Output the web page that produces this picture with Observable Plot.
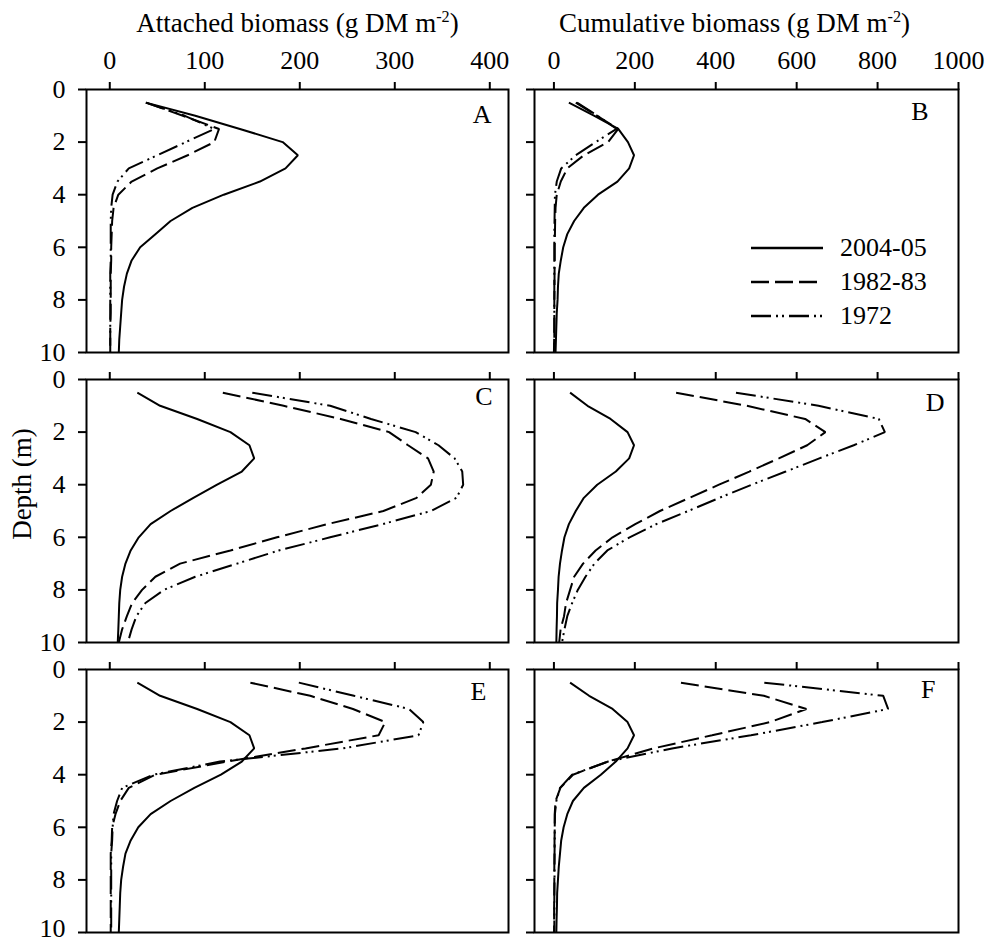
<!DOCTYPE html>
<html>
<head>
<meta charset="utf-8">
<script src="https://cdn.jsdelivr.net/npm/d3@7"></script>
<script src="https://cdn.jsdelivr.net/npm/@observablehq/plot@0.6"></script>
<style>
  body { margin: 0; background: #fff; }
  #chart { position: relative; width: 987px; height: 942px; font-family: "Liberation Serif", "Times New Roman", serif; color: #000; overflow: hidden; }
  #chart svg.panel { position: absolute; }
  .title { position: absolute; font-size: 27px; line-height: 27px; white-space: nowrap; transform: translateX(-50%); }
  .title sup { font-size: 0.6em; position: relative; top: -0.62em; vertical-align: baseline; line-height: 0; }
  .ylab { position: absolute; font-size: 27px; line-height: 27px; white-space: nowrap; transform: translate(-50%, -50%) rotate(-90deg); }
  .legrow { position: absolute; height: 34px; display: flex; align-items: center; font-size: 26px; line-height: 34px; white-space: nowrap; }
  #chart .legrow svg { position: static; display: block; margin-right: 17px; }
</style>
</head>
<body>
<div id="chart"></div>
<script>
// ---------- data ----------
const depth = [0.5, 1, 1.5, 2, 2.5, 3, 3.5, 4, 4.5, 5, 5.5, 6, 6.5, 7, 7.5, 8, 8.5, 9, 9.5, 10];
const seriesNames = ["2004-05", "1982-83", "1972"];
const panelLetters = ["A", "B", "C", "D", "E", "F"];
const xTicksAttached = [0, 100, 200, 300, 400];
const xTicksCumulative = [0, 200, 400, 600, 800, 1000];
const yTicks = [0, 2, 4, 6, 8, 10];
const titleAttached = "Attached biomass (g DM m";
const titleCumulative = "Cumulative biomass (g DM m";
const titleExponent = "-2";
const depthLabel = "Depth (m)";

// Panel A (attached)
const A_2004 = [38, 90, 137, 182, 198, 185, 158, 120, 87, 64, 48, 32, 23, 18, 15, 13, 12, 11, 10, 9.5];
const A_1982 = [38, 77, 115, 110, 82, 50, 23, 9, 4, 2.5, 2, 1.5, 1.5, 1, 1, 1, 1, 0.5, 0.5, 0.5];
const A_1972 = [38, 79, 110, 80, 50, 20, 8, 3, 1.5, 1, 1, 1, 1, 0.5, 0.5, 0.5, 0.5, 0.5, 0.5, 0.5];
// Panel B (cumulative)
const B_2004 = [37, 100, 159, 183, 198, 186, 157, 109, 74, 50, 33, 23, 17, 12, 10, 9, 7, 6, 5, 4];
const B_1982 = [54, 107, 159, 134, 74, 33, 17, 7, 4, 3, 2.5, 2, 2, 1.5, 1.5, 1, 1, 1, 0.5, 0];
const B_1972 = [57, 108, 155, 103, 54, 18, 7, 2.5, 2, 1.5, 1, 1, 1, 1, 1, 1, 1, 1, 1, 1];
// Panel C (attached)
const C_2004 = [29, 53, 92, 127, 147, 152, 139, 113, 88, 64, 43, 30.5, 22, 16.5, 13, 11, 10, 9.5, 9, 8.4];
const C_1982 = [119, 183, 243, 294, 314, 335, 341, 338, 323, 288, 229, 176, 127, 74, 48, 34, 23.5, 18, 13, 9.5];
const C_1972 = [150, 232, 275, 322, 346, 363, 371, 372, 365, 338, 287, 232, 178, 134, 90, 57, 37.5, 28, 23, 19];
// Panel D (cumulative)
const D_2004 = [40, 83, 140, 182, 198, 186, 153, 107, 74, 54, 37, 26, 20, 15, 11.6, 10, 8, 7.5, 6.6, 6];
const D_1982 = [302, 477, 621, 671, 626, 556, 483, 408, 335, 262, 201, 145, 103, 72, 50, 40, 30, 25, 16.5, 13];
const D_1972 = [450, 654, 803, 818, 741, 656, 573, 489, 409, 332, 253, 187, 132, 100, 78, 59, 45, 33, 26, 20];
// Panel E (attached)
const E_2004 = [29, 53, 92, 127, 147, 152, 139, 117, 89, 64, 43, 30, 22, 16.5, 14, 12, 11, 10.5, 10, 9.5];
const E_1982 = [148, 211, 256, 290, 283, 206, 124, 48, 20, 11, 6, 2.5, 2, 1, 1, 1, 1, 1, 1, 1];
const E_1972 = [199, 257, 315, 330, 325, 245, 116, 46, 13, 7.7, 4, 3, 2.5, 1.5, 1.5, 1.5, 1.5, 1.5, 1.5, 1.5];
// Panel F (cumulative)
const F_2004 = [40, 87, 145, 182, 198, 182, 153, 116, 74, 47, 33, 24, 18, 15, 12, 10, 8, 7.5, 6.6, 6];
const F_1982 = [314, 519, 624, 534, 391, 246, 133, 47, 16, 4, 2, 2, 1.5, 1.5, 1, 1, 1, 0.5, 0.5, 0.5];
const F_1972 = [520, 814, 826, 663, 487, 292, 134, 45, 15, 6, 2.5, 2, 2, 1.5, 1.5, 1.5, 1, 1, 1, 1];

const panelSeries = {
  A: [A_2004, A_1982, A_1972], B: [B_2004, B_1982, B_1972],
  C: [C_2004, C_1982, C_1972], D: [D_2004, D_1982, D_1972],
  E: [E_2004, E_1982, E_1972], F: [F_2004, F_1982, F_1972]
};

// ---------- layout / style ----------
const FONT = '"Liberation Serif", "Times New Roman", serif';
const cols = [
  {left: 0,   width: 520, ml: 86, mr: 12, domain: [-24.5, 419.7], ticks: xTicksAttached},
  {left: 520, width: 467, ml: 14, mr: 29, domain: [-48, 1000],    ticks: xTicksCumulative}
];
const rowsLayout = [
  {top: 0,   height: 355, mt: 89, mb: 3,  lastLabelDy: 0},
  {top: 355, height: 290, mt: 24, mb: 3,  lastLabelDy: 0},
  {top: 645, height: 297, mt: 24, mb: 10, lastLabelDy: -4}
];
const letterOffset = {A: [-17, 33], B: [-30, 30], C: [-16, 25], D: [-14, 31], E: [-22, 30], F: [-23, 28]};
const dashFor = {"2004-05": null, "1982-83": "18,6", "1972": "20,5,2,4,2,5"};

const chart = document.getElementById("chart");

panelLetters.forEach((letter, i) => {
  const col = i % 2, row = Math.floor(i / 2);
  const c = cols[col], r = rowsLayout[row];
  const data = [];
  seriesNames.forEach((name, s) => {
    panelSeries[letter][s].forEach((v, k) => data.push({series: name, depth: depth[k], value: v}));
  });
  const lines = seriesNames.map(name => Plot.line(data.filter(d => d.series === name), {
    x: "value", y: "depth", stroke: "black", strokeWidth: 2,
    strokeLinecap: "butt", strokeLinejoin: "miter",
    ...(dashFor[name] ? {strokeDasharray: dashFor[name]} : {})
  }));
  const [ldx, ldy] = letterOffset[letter];
  const yLabelMarks = col === 0
    ? [
        Plot.axisY({anchor: "left", ticks: yTicks.slice(0, -1), tickSize: 0, tickPadding: 21,
          tickFormat: d => String(d), label: null}),
        Plot.axisY({anchor: "left", ticks: yTicks.slice(-1), tickSize: 0, tickPadding: 21, dy: r.lastLabelDy,
          tickFormat: d => String(d), label: null})
      ]
    : [];
  const svg = Plot.plot({
    width: c.width, height: r.height,
    marginLeft: c.ml, marginRight: c.mr, marginTop: r.mt, marginBottom: r.mb,
    style: {fontFamily: FONT, fontSize: "26px", background: "transparent", overflow: "visible", color: "#000"},
    x: {domain: c.domain},
    y: {domain: [0, 10], reverse: true},
    marks: [
      Plot.axisX({anchor: "top", ticks: c.ticks, tickSize: 8, tickPadding: 13, strokeWidth: 2,
        tickFormat: row === 0 ? (d => String(d)) : (() => ""), label: null}),
      Plot.axisY({anchor: "left", ticks: yTicks, tickSize: 8, tickPadding: 13, strokeWidth: 2,
        tickFormat: () => "", label: null}),
      ...yLabelMarks,
      ...lines,
      Plot.frame({stroke: "black", strokeWidth: 2}),
      Plot.text([letter], {frameAnchor: "top-right", text: d => d, textAnchor: "end", lineAnchor: "bottom",
        dx: ldx, dy: ldy, fontSize: 26, fill: "black"})
    ]
  });
  svg.classList.add("panel");
  svg.style.left = c.left + "px";
  svg.style.top = r.top + "px";
  chart.appendChild(svg);
});

// titles
function addTitle(text, cx) {
  const d = document.createElement("div");
  d.className = "title";
  d.style.left = cx + "px";
  d.style.top = "10px";
  d.appendChild(document.createTextNode(text));
  const sup = document.createElement("sup");
  sup.textContent = titleExponent;
  d.appendChild(sup);
  d.appendChild(document.createTextNode(")"));
  chart.appendChild(d);
}
addTitle(titleAttached, 297.5);
addTitle(titleCumulative, 734.5);

// depth label
const yl = document.createElement("div");
yl.className = "ylab";
yl.textContent = depthLabel;
yl.style.left = "22px";
yl.style.top = "484px";
chart.appendChild(yl);

// legend (inside panel B)
const legendY = [248, 282, 316];
seriesNames.forEach((name, s) => {
  const row = document.createElement("div");
  row.className = "legrow";
  row.style.left = "751px";
  row.style.top = (legendY[s] - 17) + "px";
  const sw = d3.create("svg").attr("width", 72).attr("height", 6);
  const ln = sw.append("line").attr("x1", 0).attr("x2", 72).attr("y1", 3).attr("y2", 3)
    .attr("stroke", "black").attr("stroke-width", 2.5);
  if (dashFor[name]) ln.attr("stroke-dasharray", dashFor[name]);
  row.appendChild(sw.node());
  const t = document.createElement("span");
  t.textContent = name;
  row.appendChild(t);
  chart.appendChild(row);
});
</script>
</body>
</html>
